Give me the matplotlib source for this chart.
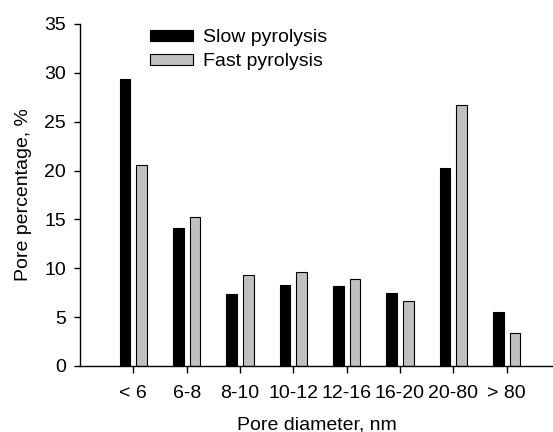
import numpy as np
import matplotlib
matplotlib.use("Agg")
from matplotlib import pyplot as plt

# pore size classes and pore percentage for each pyrolysis type
categories = ["< 6", "6-8", "8-10", "10-12", "12-16", "16-20", "20-80", "> 80"]
slow_values = [29.4, 14.1, 7.35, 8.25, 8.15, 7.45, 20.3, 5.55]
fast_values = [20.6, 15.2, 9.35, 9.6, 8.95, 6.65, 26.7, 3.35]
y_ticks = [0, 5, 10, 15, 20, 25, 30, 35]

plt.rcParams['font.family'] = ['Liberation Sans', 'DejaVu Sans']

fig = plt.figure(figsize=(5.53, 4.32), dpi=100)
ax = fig.add_axes([0.1447, 0.1528, 0.8553, 0.7917])

x = np.arange(len(categories))
width = 0.2
ax.bar(x - 0.155, slow_values, width, color='black', edgecolor='black',
       linewidth=0.8, label='Slow pyrolysis')
ax.bar(x + 0.155, fast_values, width, color='#c0c0c0', edgecolor='black',
       linewidth=0.8, label='Fast pyrolysis')

ax.set_xlim(-1.0, 7.87)
ax.set_ylim(0, 35)
ax.set_yticks(y_ticks)
ax.set_xticks(x)
ax.set_xticklabels(categories)

for side in ['top', 'right']:
    ax.spines[side].set_visible(False)
for side in ['left', 'bottom']:
    ax.spines[side].set_linewidth(1.0)

ax.tick_params(axis='y', direction='out', length=4, width=1, pad=6, labelsize=14)
ax.tick_params(axis='x', direction='out', length=5, width=1, pad=9, labelsize=14)

ax.set_xlabel('Pore diameter, nm', fontsize=14, labelpad=10)
ax.set_ylabel('Pore percentage, %', fontsize=14, labelpad=9)

ax.legend(loc='upper left', bbox_to_anchor=(0.148, 0.985), frameon=False,
          fontsize=14, handlelength=2.2, handleheight=0.52, handletextpad=0.5,
          labelspacing=0.36, borderaxespad=0, borderpad=0)

fig.savefig('out.png', dpi=100)
